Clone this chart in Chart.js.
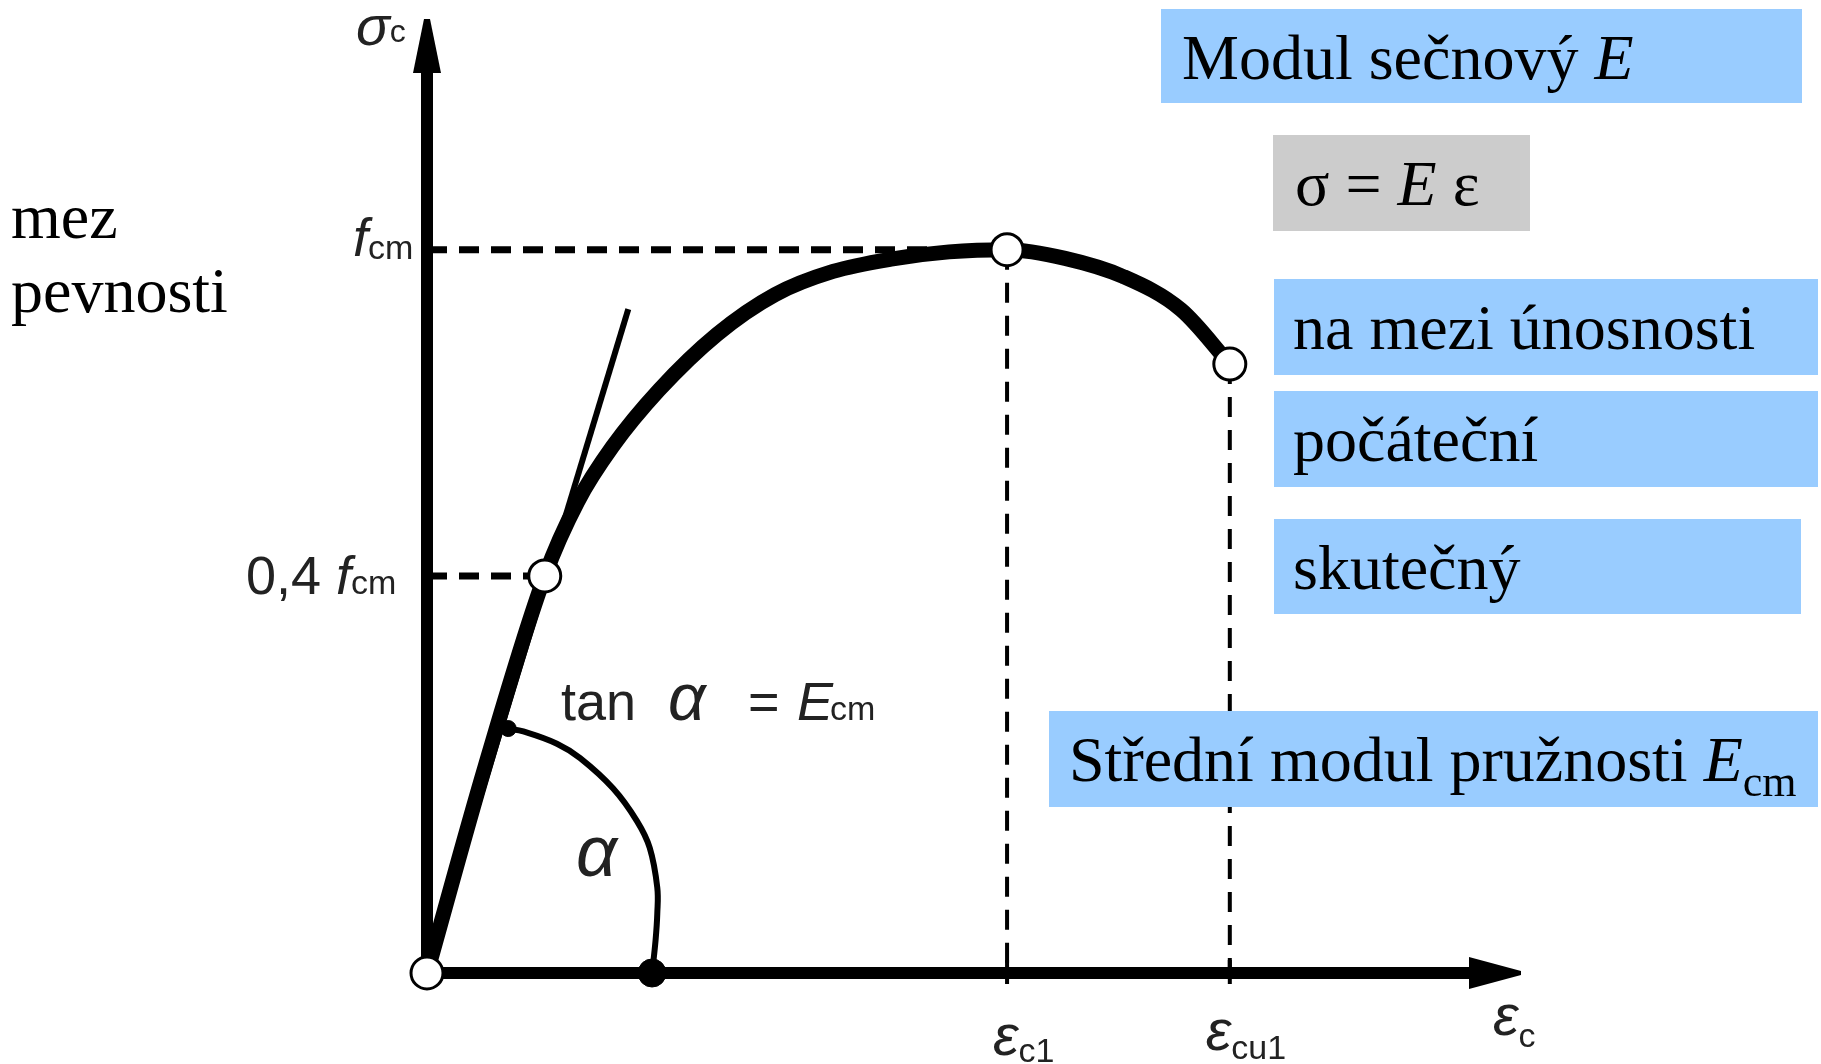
<!DOCTYPE html>
<html><head><meta charset="utf-8">
<script src="https://cdn.jsdelivr.net/npm/chart.js@4/dist/chart.umd.min.js"></script>
<style>html,body{margin:0;padding:0;background:#fff;overflow:hidden}canvas{display:block}</style>
</head><body>
<canvas id="c" width="1821" height="1064"></canvas>
<script>
// ---- data (normalised: strain / eps_c1, stress / f_cm) ----
const curveStrain = [0, 0.10, 0.203, 0.26, 0.32, 0.40, 0.50, 0.60, 0.70, 0.80, 0.90, 1.0, 1.10, 1.20, 1.30, 1.384];
const curveStress = [0, 0.285, 0.549, 0.652, 0.728, 0.806, 0.883, 0.938, 0.970, 0.987, 0.997, 1.0, 0.988, 0.963, 0.917, 0.842];
const secantStrain = [0, 0.347];
const secantStress = [0, 0.918];
const arcStrain = [0.140, 0.166, 0.224, 0.264, 0.321, 0.362, 0.384, 0.397, 0.397, 0.394, 0.388];
const arcStress = [0.338, 0.334, 0.317, 0.297, 0.255, 0.210, 0.173, 0.118, 0.082, 0.045, 0];
const markerNames = ['0', '0,4 fcm', 'fcm', 'εcu1'];
const markerStrain = [0, 0.203, 1.0, 1.384];
const markerStress = [0, 0.549, 1.0, 0.842];
const arcEndStrain = [0.388, 0.140];
const arcEndStress = [0, 0.338];
const epsC1 = 1.0, epsCu1 = 1.384, fcmLevel = 1.0, fcm04Level = 0.549;
const xAxisMax = 1.886, yAxisMax = 1.319;
const boxTexts = ['Modul sečnový ', 'σ = ', 'na mezi únosnosti', 'počáteční', 'skutečný', 'Střední modul pružnosti '];

const pts = (xs, ys) => xs.map((x, i) => ({x, y: ys[i]}));

const SANS = '"Liberation Sans", Arial, sans-serif';
const SERIF = '"Liberation Serif", "Times New Roman", serif';

function runs(ctx, x, y, parts) {
  for (const p of parts) {
    ctx.font = p.f;
    const px = (p.at !== undefined) ? p.at : x + (p.dx || 0);
    ctx.fillText(p.t, px, y + (p.dy || 0));
    x = px + ctx.measureText(p.t).width + (p.gap || 0);
  }
}

const deco = {
  id: 'deco',
  beforeDatasetsDraw(chart) {
    const ctx = chart.ctx, xs = chart.scales.x, ys = chart.scales.y;
    const x0 = xs.getPixelForValue(0), y0 = ys.getPixelForValue(0);
    const xe = xs.getPixelForValue(xAxisMax), ye = ys.getPixelForValue(yAxisMax);
    ctx.save();
    ctx.fillStyle = '#000';
    // x axis
    ctx.fillRect(x0 - 6, y0 - 6, (xe - 50) - (x0 - 6), 12);
    ctx.beginPath(); ctx.moveTo(xe - 52, y0 - 16); ctx.lineTo(xe, y0 - 2); ctx.lineTo(xe, y0 + 2); ctx.lineTo(xe - 52, y0 + 16); ctx.closePath(); ctx.fill();
    // y axis
    ctx.fillRect(x0 - 6, ye + 52, 12, (y0 + 6) - (ye + 52));
    ctx.beginPath(); ctx.moveTo(x0 - 14, ye + 54); ctx.lineTo(x0 - 3, ye); ctx.lineTo(x0 + 3, ye); ctx.lineTo(x0 + 14, ye + 54); ctx.closePath(); ctx.fill();
    // ticks
    for (const v of [epsC1, epsCu1]) {
      const px = xs.getPixelForValue(v);
      ctx.fillRect(px - 2, y0 - 13, 4, 24);
    }
    ctx.restore();
  },
  afterDraw(chart) {
    const ctx = chart.ctx, xs = chart.scales.x, ys = chart.scales.y;
    ctx.save();
    ctx.textBaseline = 'alphabetic';
    ctx.textAlign = 'left';
    // axis labels
    ctx.fillStyle = '#222';
    runs(ctx, 356, 45, [{t: 'σ', f: 'italic 56px ' + SANS}, {t: 'c', f: '32px ' + SANS, dy: -3}]);
    const yf = ys.getPixelForValue(fcmLevel);
    runs(ctx, 353, yf + 6, [{t: 'f', f: 'italic 54px ' + SANS}, {t: 'cm', f: '34px ' + SANS, dy: 3}]);
    const y4 = ys.getPixelForValue(fcm04Level);
    runs(ctx, 246, y4 + 18, [{t: '0,4 ', f: '54px ' + SANS}, {t: 'f', f: 'italic 54px ' + SANS}, {t: 'cm', f: '34px ' + SANS}]);
    runs(ctx, 561, 720, [{t: 'tan', f: '54px ' + SANS}, {t: 'α', f: 'italic 66px ' + SANS, at: 668}, {t: '=', f: '54px ' + SANS, at: 748}, {t: 'E', f: 'italic 54px ' + SANS, at: 797}, {t: 'cm', f: '34px ' + SANS, at: 830}]);
    runs(ctx, 576, 876, [{t: 'α', f: 'italic 72px ' + SANS}]);
    const xc1 = xs.getPixelForValue(epsC1), xcu = xs.getPixelForValue(epsCu1), xe = xs.getPixelForValue(xAxisMax);
    runs(ctx, xc1 - 14, 1055, [{t: 'ε', f: 'italic 58px ' + SANS}, {t: 'c1', f: '34px ' + SANS, dy: 7}]);
    runs(ctx, xcu - 24, 1050, [{t: 'ε', f: 'italic 58px ' + SANS}, {t: 'cu1', f: '34px ' + SANS, dy: 9}]);
    runs(ctx, xe - 28, 1035, [{t: 'ε', f: 'italic 58px ' + SANS}, {t: 'c', f: '34px ' + SANS, dy: 12}]);
    // left text
    ctx.fillStyle = '#000';
    ctx.font = '64px ' + SERIF;
    ctx.fillText('mez', 11, 238);
    ctx.fillText('pevnosti', 11, 312);
    // boxes
    const boxes = [
      {x: 1161, y: 9, w: 641, h: 94, c: '#99ccff', tx: 1182, parts: [{t: boxTexts[0], f: '64px ' + SERIF}, {t: 'E', f: 'italic 64px ' + SERIF}]},
      {x: 1273, y: 135, w: 257, h: 96, c: '#cccccc', tx: 1295, parts: [{t: boxTexts[1], f: '64px ' + SERIF}, {t: 'E ', f: 'italic 64px ' + SERIF}, {t: 'ε', f: '64px ' + SERIF}]},
      {x: 1274, y: 279, w: 544, h: 96, c: '#99ccff', tx: 1293, parts: [{t: boxTexts[2], f: '64px ' + SERIF}]},
      {x: 1274, y: 391, w: 544, h: 96, c: '#99ccff', tx: 1293, parts: [{t: boxTexts[3], f: '64px ' + SERIF}]},
      {x: 1274, y: 519, w: 527, h: 95, c: '#99ccff', tx: 1293, parts: [{t: boxTexts[4], f: '64px ' + SERIF}]},
      {x: 1049, y: 711, w: 769, h: 96, c: '#99ccff', tx: 1069, parts: [{t: boxTexts[5], f: '64px ' + SERIF}, {t: 'E', f: 'italic 64px ' + SERIF}, {t: 'cm', f: '44px ' + SERIF, dy: 15}]}
    ];
    for (const b of boxes) {
      ctx.fillStyle = b.c;
      ctx.fillRect(b.x, b.y, b.w, b.h);
      ctx.fillStyle = '#000';
      runs(ctx, b.tx, b.y + 70, b.parts);
    }
    ctx.restore();
  }
};

const line = (data, w, extra) => Object.assign({
  type: 'scatter', data, showLine: true, borderColor: '#000', backgroundColor: '#000',
  borderWidth: w, pointRadius: 0, clip: false, fill: false
}, extra || {});

new Chart(document.getElementById('c'), {
  type: 'scatter',
  data: {
    datasets: [
      {data: pts(markerStrain, markerStress), pointRadius: 16, pointBorderWidth: 3, pointBackgroundColor: '#fff', pointBorderColor: '#000', showLine: false, clip: false, label: 'body'},
      {data: pts(arcEndStrain, arcEndStress), pointRadius: [14, 8], pointBackgroundColor: '#000', pointBorderColor: '#000', pointBorderWidth: 1, showLine: false, clip: false, label: 'alpha ends'},
      line(pts(curveStrain, curveStress), 15, {cubicInterpolationMode: 'monotone', label: 'σ-ε', borderCapStyle: 'round'}),
      line(pts(secantStrain, secantStress), 6, {label: 'Ecm'}),
      line(pts(arcStrain, arcStress), 6, {tension: 0.4, label: 'α'}),
      line(pts([0, epsC1], [fcmLevel, fcmLevel]), 7, {borderDash: [20, 12], label: 'fcm'}),
      line(pts([0, markerStrain[1]], [fcm04Level, fcm04Level]), 7, {borderDash: [20, 12], label: '0,4 fcm'}),
      line(pts([epsC1, epsC1], [fcmLevel, 0]), 4, {borderDash: [20, 13], label: 'εc1'}),
      line(pts([epsCu1, epsCu1], [markerStress[3], 0]), 4, {borderDash: [20, 13], label: 'εcu1'})
    ]
  },
  options: {
    responsive: false, animation: false, devicePixelRatio: 1, events: [],
    layout: {padding: {left: 427, right: 300, top: 13, bottom: 91}},
    plugins: {legend: {display: false}, tooltip: {enabled: false}},
    scales: {
      x: {type: 'linear', min: 0, max: xAxisMax, display: false},
      y: {type: 'linear', min: 0, max: yAxisMax, display: false}
    }
  },
  plugins: [deco]
});
</script>
</body></html>
